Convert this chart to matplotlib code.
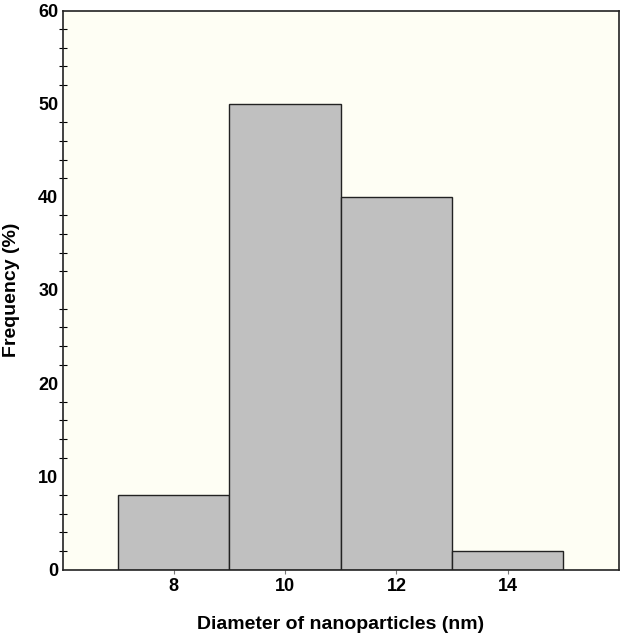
import numpy as np
import matplotlib.pyplot as plt
from matplotlib.ticker import MultipleLocator

plt.rcParams['font.family'] = ['Liberation Sans', 'DejaVu Sans']

# histogram bins (nm) and frequencies (%)
bin_left = [7, 9, 11, 13]
bin_width = [2, 2, 2, 2]
freq = [8, 50, 40, 2]
xticks = [8, 10, 12, 14]

fig = plt.figure(figsize=(6.24, 6.37), dpi=100)
ax = fig.add_axes([62.5/624, 1 - 569.5/637, (619 - 62.5)/624, (569.5 - 10.5)/637])
ax.set_facecolor('#fefef4')

ax.bar(bin_left, freq, width=bin_width, align='edge', color='#c0c0c0',
       edgecolor='#222222', linewidth=1.0, zorder=2)

ax.set_xlim(6, 16)
ax.set_ylim(0, 60)
ax.set_xticks(xticks)
ax.set_xticklabels([str(t) for t in xticks], fontsize=13, fontweight='bold')
ax.yaxis.set_major_locator(MultipleLocator(10))
ax.yaxis.set_minor_locator(MultipleLocator(2))
ax.tick_params(axis='y', which='major', length=0, pad=3, labelsize=13)
ax.tick_params(axis='y', which='minor', length=6, direction='inout', width=0.8)
ax.tick_params(axis='x', which='major', length=3, direction='out', color='#777777', pad=3)
for lab in ax.get_yticklabels():
    lab.set_fontweight('bold')

for s in ax.spines.values():
    s.set_linewidth(1.2)
    s.set_color('#222222')

ax.set_xlabel('Diameter of nanoparticles (nm)', fontsize=14, fontweight='bold', labelpad=15)
ax.set_ylabel('Frequency (%)', fontsize=14, fontweight='bold', labelpad=13)

fig.savefig('out.png', dpi=100)
